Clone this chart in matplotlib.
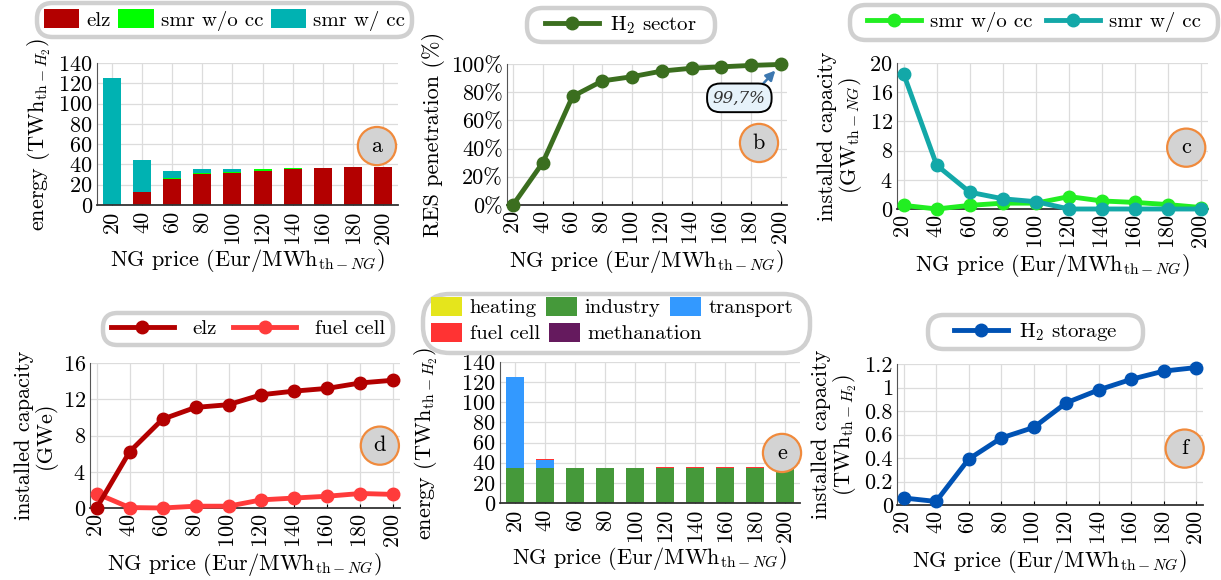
import numpy as np
import matplotlib
matplotlib.use("Agg")
import matplotlib.pyplot as plt
from matplotlib.patches import FancyBboxPatch
from matplotlib.transforms import IdentityTransform
from matplotlib.ticker import FuncFormatter

plt.rcParams['font.family'] = 'serif'
plt.rcParams['font.serif'] = ['cmr10']
plt.rcParams['mathtext.fontset'] = 'cm'
plt.rcParams['axes.unicode_minus'] = False
plt.rcParams['axes.formatter.use_mathtext'] = True

FS = 16
FS_LEG = 15

# NG price scenarios (Eur/MWh_th-NG)
ng_price = [20, 40, 60, 80, 100, 120, 140, 160, 180, 200]

# (a) hydrogen production by technology (TWh)
prod_elz = [0, 13, 26, 31, 32, 34, 35.5, 36, 37, 37]
prod_smr = [0, 0, 1, 0.8, 1, 1.5, 1, 0.8, 0.5, 0.2]
prod_smr_cc = [125, 31, 7, 3.5, 2, 0, 0, 0, 0, 0]

# (b) RES penetration in the H2 sector (%)
res_share = [0, 30, 77, 88, 91, 95, 97, 98, 99, 99.7]

# (c) SMR capacity (GW_th-NG)
cap_smr = [0.5, 0, 0.5, 0.8, 0.8, 1.7, 1.1, 0.9, 0.6, 0.2]
cap_smr_cc = [18.5, 6.0, 2.3, 1.4, 1.0, 0, 0, 0, 0, 0]

# (d) electrolyser / fuel cell capacity (GWe)
cap_elz = [0, 6.2, 9.8, 11.1, 11.4, 12.5, 12.9, 13.2, 13.8, 14.1]
cap_fc = [1.6, 0.05, 0, 0.2, 0.2, 0.9, 1.1, 1.3, 1.6, 1.5]

# (e) hydrogen use by sector (TWh)
use_heating = [0, 0, 0, 0, 0, 0, 0, 0, 0, 0]
use_industry = [34.5, 34.5, 34.5, 34.5, 34.5, 34.5, 34.5, 34.5, 34.5, 34.5]
use_transport = [90.5, 8.5, 0, 0, 0, 0, 0, 0, 0, 0]
use_fc = [0, 0.7, 0, 0, 0, 0.8, 0.8, 0.8, 1.6, 0.8]
use_meth = [0, 0, 0, 0, 0, 0, 0, 0, 0, 0]

# (f) H2 storage capacity (TWh)
cap_storage = [0.06, 0.03, 0.39, 0.57, 0.66, 0.87, 0.98, 1.07, 1.14, 1.17]

W, H = 1221, 580
fig = plt.figure(figsize=(W / 100, H / 100), dpi=100)

def px_axes(left, top, right, bottom):
    return fig.add_axes([left / W, 1 - bottom / H, (right - left) / W, (bottom - top) / H])

XLABEL = r'NG price (Eur/MWh$_{\mathrm{th}-NG}$)'
GRID = '#dcdcdc'

def style(ax):
    ax.grid(True, color=GRID, lw=0.9)
    ax.set_axisbelow(True)
    for s in ['top', 'right']:
        ax.spines[s].set_visible(False)
    ax.spines['left'].set_color('#555555')
    ax.spines['bottom'].set_color('#333333')
    ax.spines['bottom'].set_linewidth(1.3)
    ax.tick_params(axis='x', direction='in', length=3, rotation=90, pad=4, labelsize=FS)
    ax.tick_params(axis='y', direction='in', length=0, pad=3, labelsize=FS)
    ax.set_xlabel(XLABEL, fontsize=FS, labelpad=2)

def badge(ax, letter, x, y):
    ax.text(x, y, letter, transform=ax.transAxes, ha='center', va='center', fontsize=FS,
            bbox=dict(boxstyle='circle,pad=0.42', fc='#d3d3d3', ec='#f08a3c', lw=1.6), zorder=5)

def frame(l, t, r, b):
    # rounded grey outline behind a legend, in pixel units
    h = b - t
    fig.patches.append(FancyBboxPatch((l, H - b), r - l, h,
                                      boxstyle=f'round,pad=0,rounding_size={h / 2.2:.1f}',
                                      transform=IdentityTransform(), fc='white',
                                      ec='#d0d0d0', lw=3.2, zorder=-1))

def legend(handles, labels, box, ncol, hl=1.7, tp=0.3, cs=0.3, **kw):
    l, t, r, b = box
    frame(l, t, r, b)
    return fig.legend(handles, labels, loc='center',
                      bbox_to_anchor=((l + r) / 2 / W, 1 - (t + b) / 2 / H),
                      ncol=ncol, frameon=False, fontsize=FS_LEG,
                      handlelength=hl, handletextpad=tp, columnspacing=cs,
                      borderpad=0, **kw)

pos = np.arange(len(ng_price))
bw = 0.6

# ---- (a) production
ax = px_axes(97, 63, 398, 205)
b1 = ax.bar(pos, prod_elz, bw, color='#b30000')
b2 = ax.bar(pos, prod_smr, bw, bottom=prod_elz, color='#00ff00')
bot = np.array(prod_elz) + np.array(prod_smr)
b3 = ax.bar(pos, prod_smr_cc, bw, bottom=bot, color='#00b2b2')
ax.set_xlim(-0.5, 9.5)
ax.set_ylim(0, 140)
ax.set_yticks(range(0, 141, 20))
ax.set_xticks(pos, [str(p) for p in ng_price])
style(ax)
ax.set_ylabel(r'energy (TWh$_{\mathrm{th}-H_2}$)', fontsize=FS, labelpad=4)
badge(ax, 'a', 0.93, 0.415)
legend([b1, b2, b3], ['elz', 'smr w/o cc', 'smr w/ cc'], (37, 3, 412, 37), 3,
       handleheight=1.0, tp=0.35, cs=0.35)

# ---- (b) RES penetration
ax = px_axes(507, 64, 787, 205)
l_b, = ax.plot(ng_price, res_share, '-o', color='#3b6e1f', lw=3.5, ms=9, clip_on=False, zorder=3)
ax.set_xlim(16, 204)
ax.set_ylim(0, 100)
ax.set_yticks(range(0, 101, 20))
ax.yaxis.set_major_formatter(FuncFormatter(lambda v, p: f'{v:.0f}%'))
ax.set_xticks(ng_price)
style(ax)
ax.set_ylabel('RES penetration (%)', fontsize=FS, labelpad=4)
badge(ax, 'b', 0.90, 0.44)
ax.annotate('99,7%', xy=(ng_price[-1], res_share[-1]), xytext=(172, 76),
            ha='center', va='center', fontsize=12, style='italic', family='DejaVu Serif',
            color='#333333',
            bbox=dict(boxstyle='round,pad=0.35,rounding_size=0.8', fc='#e6f2fa', ec='black', lw=1.4),
            arrowprops=dict(arrowstyle='-|>', color='#3d78b0', lw=1.8, shrinkA=0, shrinkB=6,
                            relpos=(0.85, 1.0), mutation_scale=14),
            zorder=6)
legend([l_b], [r'H$_2$ sector'], (527, 8, 715, 42), 1, hl=2.6, tp=0.5)

# ---- (c) SMR capacity
ax = px_axes(897, 63, 1208, 209)
l_c1, = ax.plot(ng_price, cap_smr, '-o', color='#22ee22', lw=3.5, ms=9, clip_on=False, zorder=3)
l_c2, = ax.plot(ng_price, cap_smr_cc, '-o', color='#13a8a8', lw=3.5, ms=9, clip_on=False, zorder=4)
ax.set_xlim(16, 204)
ax.set_ylim(0, 20)
ax.set_yticks(range(0, 21, 4))
ax.set_xticks(ng_price)
style(ax)
ax.set_ylabel('installed capacity\n' + r'(GW$_{\mathrm{th}-NG}$)', fontsize=FS, labelpad=4, linespacing=1.0)
badge(ax, 'c', 0.93, 0.42)
legend([l_c1, l_c2], ['smr w/o cc', 'smr w/ cc'], (850, 5, 1218, 40), 2, hl=2.6, tp=0.45, cs=0.6)

# ---- (d) elz / fuel cell capacity
ax = px_axes(90, 363, 400, 508)
l_d1, = ax.plot(ng_price, cap_elz, '-o', color='#b30000', lw=3.5, ms=9, clip_on=False, zorder=4)
l_d2, = ax.plot(ng_price, cap_fc, '-o', color='#ff3b3b', lw=3.5, ms=9, clip_on=False, zorder=3)
ax.set_xlim(16, 204)
ax.set_ylim(0, 16)
ax.set_yticks(range(0, 17, 4))
ax.set_xticks(ng_price)
style(ax)
ax.set_ylabel('installed capacity\n(GWe)', fontsize=FS, labelpad=4, linespacing=1.0)
badge(ax, 'd', 0.935, 0.43)
legend([l_d1, l_d2], ['elz', 'fuel cell'], (103, 313, 393, 345), 2, hl=3.0, tp=0.9, cs=0.8)

# ---- (e) H2 use
ax = px_axes(500, 362, 800, 503)
cols_e = ['#e5e51c', '#45993a', '#3399ff', '#ff3333', '#651a5e']
series_e = [use_heating, use_industry, use_transport, use_fc, use_meth]
names_e = ['heating', 'industry', 'transport', 'fuel cell', 'methanation']
bottom = np.zeros(len(pos))
bars_e = []
for vals, c in zip(series_e, cols_e):
    bars_e.append(ax.bar(pos, vals, bw, bottom=bottom, color=c))
    bottom += np.array(vals)
ax.set_xlim(-0.5, 9.5)
ax.set_ylim(0, 140)
ax.set_yticks(range(0, 141, 20))
ax.set_xticks(pos, [str(p) for p in ng_price])
style(ax)
ax.set_ylabel(r'energy (TWh$_{\mathrm{th}-H_2}$)', fontsize=FS)
ax.yaxis.set_label_coords(-0.2, 0.42)
badge(ax, 'e', 0.94, 0.355)
# two ragged rows inside one frame
frame(423, 294, 810, 353)
for i0, i1, ytop in [(0, 3, 297), (3, 5, 323)]:
    fig.legend(bars_e[i0:i1], names_e[i0:i1], loc='upper left',
               bbox_to_anchor=(431 / W, 1 - ytop / H), ncol=i1 - i0, frameon=False,
               fontsize=FS_LEG, handlelength=1.5, handleheight=1.0, handletextpad=0.35,
               columnspacing=0.45, borderpad=0, borderaxespad=0)

# ---- (f) H2 storage
ax = px_axes(897, 364, 1203, 505)
l_f, = ax.plot(ng_price, cap_storage, '-o', color='#0052b4', lw=3.5, ms=9, clip_on=False, zorder=3)
ax.set_xlim(16, 204)
ax.set_ylim(0, 1.2)
ax.set_yticks(np.arange(0, 1.21, 0.2))
ax.yaxis.set_major_formatter(FuncFormatter(lambda v, p: f'{v:.1f}'.rstrip('0').rstrip('.') if v else '0'))
ax.set_xticks(ng_price)
style(ax)
ax.set_ylabel('installed capacity\n' + r'(TWh$_{\mathrm{th}-H_2}$)', fontsize=FS, labelpad=4, linespacing=1.0)
badge(ax, 'f', 0.94, 0.40)
legend([l_f], [r'H$_2$ storage'], (928, 315, 1143, 349), 1, hl=2.6, tp=0.5)

fig.savefig('out.png', dpi=100)
